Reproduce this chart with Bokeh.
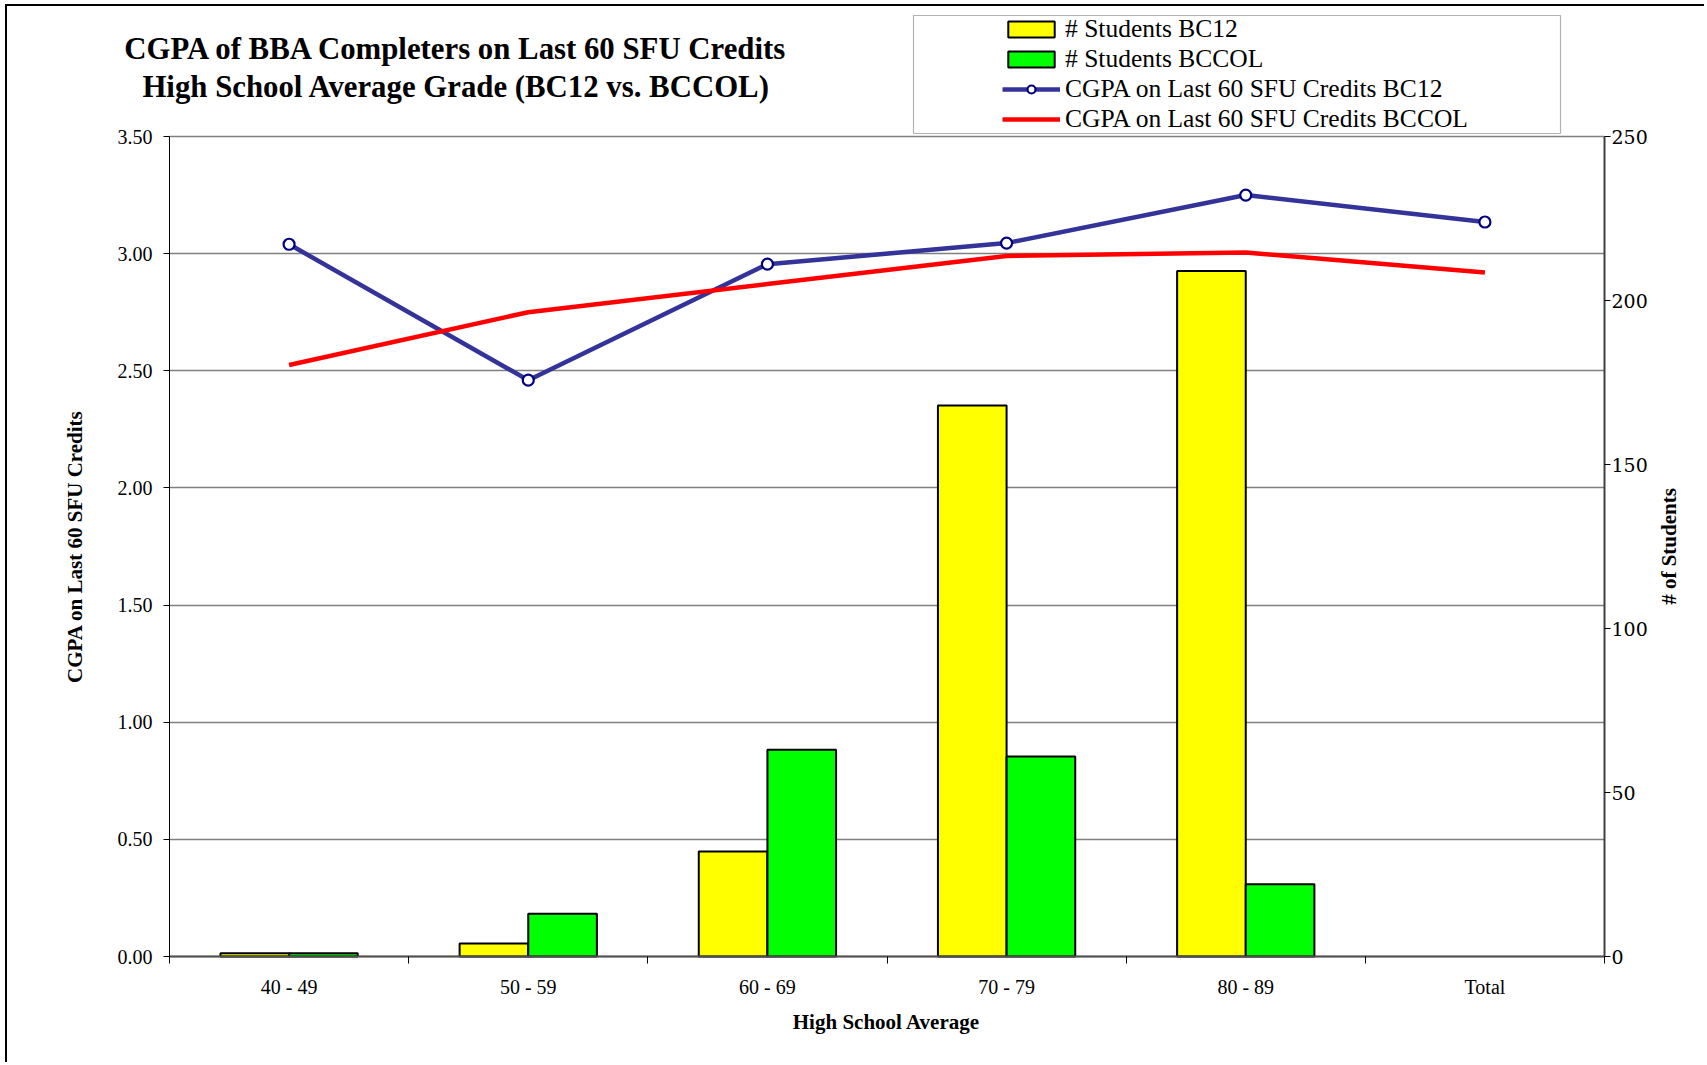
import math
from bokeh.plotting import figure
from bokeh.models import (Range1d, LinearAxis, FixedTicker, Legend, LegendItem, Label,
                          BoxAnnotation, ColumnDataSource, NumeralTickFormatter, Grid)
from bokeh.transform import dodge
from bokeh.embed import file_html
from bokeh.resources import INLINE

# ---------------- data ----------------
categories = ["40 - 49", "50 - 59", "60 - 69", "70 - 79", "80 - 89", "Total"]
students_bc12 = [1, 4, 32, 168, 209, float("nan")]
students_bccol = [1, 13, 63, 61, 22, float("nan")]
cgpa_bc12 = [3.04, 2.46, 2.955, 3.045, 3.25, 3.135]
cgpa_bccol = [2.525, 2.75, 2.87, 2.99, 3.005, 2.92]
cgpa_ticks = [0, 0.5, 1.0, 1.5, 2.0, 2.5, 3.0, 3.5]
student_ticks = [0, 50, 100, 150, 200, 250]
title_lines = ["CGPA of BBA Completers on Last 60 SFU Credits",
               "High School Average Grade (BC12 vs. BCCOL)"]
x_title = "High School Average"
y_title = "CGPA on Last 60 SFU Credits"
y2_title = "# of Students"

# ---------------- layout (page pixels) ----------------
W, H = 1699, 1058
CX, CY = 7, 6                          # canvas origin on the page
PL, PR, PT, PB = 169, 1604, 136, 956   # plot area edges on the page
ncat = len(categories)
kx = (PR - PL) / ncat
ky = (PB - PT) / cgpa_ticks[-1]
ratio = student_ticks[-1] / cgpa_ticks[-1]


def sx(px):
    return px - CX


def sy(py):
    return (CY + H) - py


x0, x1 = (CX - PL) / kx, (CX + W - PL) / kx
y0, y1 = (PB - (CY + H)) / ky, (PB - CY) / ky

pos = [i + 0.5 for i in range(ncat)]
src = ColumnDataSource(dict(pos=pos, cat=categories, bc12=students_bc12, bccol=students_bccol,
                            g12=cgpa_bc12, gcol=cgpa_bccol))

p = figure(width=W, height=H, output_backend="svg", toolbar_location=None, title=None,
           x_range=Range1d(x0, x1), y_range=Range1d(y0, y1),
           x_axis_location=None, y_axis_location=None,
           min_border_left=0, min_border_right=0, min_border_top=0, min_border_bottom=0)
p.styles = {"margin-left": "5px", "margin-top": "4px",
            "border-top": "2px solid black", "border-left": "2px solid black"}
p.extra_y_ranges = {"students": Range1d(y0 * ratio, y1 * ratio)}
p.outline_line_color = None
p.background_fill_color = "white"
p.border_fill_color = "white"
for g in p.grid:
    g.visible = False

FONT = "Liberation Serif"

# horizontal grid limited to the plot area
grid = Grid(dimension=1, ticker=FixedTicker(ticks=cgpa_ticks),
            grid_line_color="#808080", grid_line_width=1.3)
if "cross_bounds" in Grid.properties():
    grid.cross_bounds = (0, ncat)
    p.add_layout(grid)
else:
    p.segment(x0=[0] * len(cgpa_ticks), x1=[ncat] * len(cgpa_ticks), y0=cgpa_ticks,
              y1=cgpa_ticks, line_color="#808080", line_width=1.3, level="underlay")

# x axis
xa = LinearAxis(fixed_location=0, bounds=(0, ncat),
                ticker=FixedTicker(ticks=pos, minor_ticks=list(range(ncat + 1))))
xa.major_label_overrides = {pv: c for pv, c in zip(pos, categories)}
xa.major_tick_line_color = None
xa.major_tick_out = 0
xa.major_tick_in = 0
xa.minor_tick_out = 7
xa.minor_tick_in = 0
xa.minor_tick_line_color = "black"
xa.axis_line_color = "#505050"
xa.axis_line_width = 2
xa.major_label_text_font = FONT
xa.major_label_text_font_size = "20px"
xa.major_label_text_color = "black"
xa.major_label_standoff = 12
p.add_layout(xa, "below")

# left axis
ya = LinearAxis(fixed_location=0, bounds=(0, cgpa_ticks[-1]),
                ticker=FixedTicker(ticks=cgpa_ticks),
                formatter=NumeralTickFormatter(format="0.00"))
ya.minor_tick_line_color = None
ya.major_tick_out = 6
ya.major_tick_in = 0
ya.axis_line_color = "black"
ya.major_label_text_font = FONT
ya.major_label_text_font_size = "20px"
ya.major_label_text_color = "black"
ya.major_label_standoff = 11
p.add_layout(ya, "left")

# right axis
ra = LinearAxis(y_range_name="students", fixed_location=ncat, bounds=(0, student_ticks[-1]),
                ticker=FixedTicker(ticks=student_ticks))
ra.minor_tick_line_color = None
ra.major_tick_out = 6
ra.major_tick_in = 0
ra.axis_line_color = "#404040"
ra.axis_line_width = 2
ra.major_label_text_font = "DejaVu Serif"
ra.major_label_text_font_size = "19px"
ra.major_label_text_color = "black"
ra.major_label_standoff = 1
p.add_layout(ra, "right")

# bars
bw = 0.287
b1 = p.vbar(x=dodge("pos", -bw / 2, range=p.x_range), top="bc12", width=bw, source=src,
            y_range_name="students", fill_color="#FFFF00", line_color="black", line_width=2)
b2 = p.vbar(x=dodge("pos", bw / 2, range=p.x_range), top="bccol", width=bw, source=src,
            y_range_name="students", fill_color="#00FF00", line_color="black", line_width=2)

# lines
l1 = p.line(x="pos", y="g12", source=src, line_color="#333399", line_width=4.5)
s1 = p.scatter(x="pos", y="g12", source=src, marker="circle", size=11,
               fill_color="white", line_color="#000080", line_width=2.2)
l2 = p.line(x="pos", y="gcol", source=src, line_color="#FF0000", line_width=4.5)

# legend frame
box = BoxAnnotation(left=sx(913), right=sx(1560), bottom=sy(133), top=sy(15),
                    left_units="screen", right_units="screen",
                    bottom_units="screen", top_units="screen",
                    fill_color="white", fill_alpha=1.0, line_color="black", line_width=1.2)
p.add_layout(box)

legend = Legend(items=[
    LegendItem(label="# Students BC12", renderers=[b1]),
    LegendItem(label="# Students BCCOL", renderers=[b2]),
    LegendItem(label="CGPA on Last 60 SFU Credits BC12", renderers=[l1, s1]),
    LegendItem(label="CGPA on Last 60 SFU Credits BCCOL", renderers=[l2]),
], location=(sx(1002), sy(133.6)), orientation="vertical")
legend.padding = 0
legend.margin = 0
legend.spacing = 0
legend.border_line_color = None
legend.background_fill_alpha = 0
legend.glyph_width = 58
legend.glyph_height = 20
legend.label_height = 26
legend.label_standoff = 5
legend.label_text_font = FONT
legend.label_text_font_size = "25.5px"
legend.label_text_color = "black"
legend.label_text_baseline = "middle"
p.add_layout(legend, "center")

# titles
for txt, yc in zip(title_lines, [48, 86]):
    p.add_layout(Label(x=sx(456), y=sy(yc), x_units="screen", y_units="screen",
                       text=txt, text_font=FONT, text_font_size="30.8px",
                       text_font_style="bold", text_color="black",
                       text_align="center", text_baseline="middle"))

# axis titles
axis_titles = [(x_title, 886, 1021, 0.0), (y_title, 74, 546, math.pi / 2),
               (y2_title, 1668, 546, math.pi / 2)]
for txt, xc, yc, ang in axis_titles:
    p.add_layout(Label(x=sx(xc), y=sy(yc), x_units="screen", y_units="screen",
                       text=txt, angle=ang, text_font=FONT, text_font_size="21px",
                       text_font_style="bold", text_color="black",
                       text_align="center", text_baseline="middle"))

open("out.html", "w").write(file_html(p, INLINE))
